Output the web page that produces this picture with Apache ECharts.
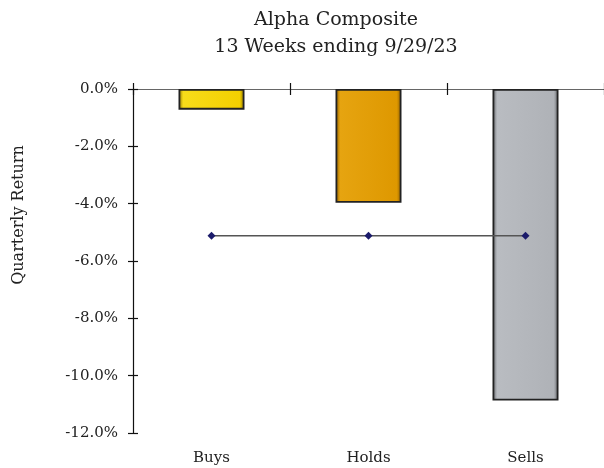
<!DOCTYPE html>
<html><head><meta charset="utf-8">
<script src="https://cdn.jsdelivr.net/npm/echarts@6/dist/echarts.min.js"></script>
<style>html,body{margin:0;padding:0;background:#fff}#c{width:604px;height:468px}</style>
</head><body><div id="c"></div>
<script>
const categories = ['Buys', 'Holds', 'Sells'];
const returns = [-0.72, -3.97, -10.87];
const average = [-5.12, -5.12, -5.12];
const barColors = [
  ['#8a7000', '#f7dc1a', '#f3d000', '#8a7000'],
  ['#8a5c00', '#e6a410', '#de9800', '#8a5c00'],
  ['#5e6064', '#b9bcc1', '#afb2b7', '#5e6064']
];
const font = 'DejaVu Serif';
function grad(c){
  return {type:'linear',x:0,y:0,x2:1,y2:0,colorStops:[
    {offset:0,color:c[0]},{offset:0.07,color:c[1]},{offset:0.93,color:c[2]},{offset:1,color:c[3]}]};
}
const chart = echarts.init(document.getElementById('c'));
const baseX = {type:'category', data:categories, boundaryGap:true};
const baseY = {type:'value', min:-12, max:0, interval:2, splitLine:{show:false}};
const gridBox = {left:133, top:89, width:475, height:344};
chart.setOption({
  animation:false,
  title:{text:'Alpha Composite\n13 Weeks ending 9/29/23', left:331, top:2, textAlign:'center',
    textStyle:{fontFamily:font, fontSize:19, fontWeight:'normal', color:'#222', lineHeight:27}},
  grid:[Object.assign({}, gridBox), Object.assign({}, gridBox)],
  xAxis:[
    Object.assign({}, baseX, {gridIndex:0, position:'top', axisLine:{lineStyle:{color:'#666', width:1.2}},
      axisTick:{show:true, length:6, lineStyle:{color:'#111', width:1.2}}, axisLabel:{show:false}}),
    Object.assign({}, baseX, {gridIndex:0, position:'bottom', axisLine:{show:false}, axisTick:{show:false},
      axisLabel:{margin:18, fontFamily:font, fontSize:15, color:'#222'}}),
    Object.assign({}, baseX, {gridIndex:1, position:'top', axisLine:{show:true, lineStyle:{color:'rgba(0,0,0,0)'}},
      axisTick:{show:true, inside:true, length:6, lineStyle:{color:'#111', width:1.2}}, axisLabel:{show:false}})
  ],
  yAxis:[
    Object.assign({}, baseY, {gridIndex:0, name:'Quarterly Return', nameLocation:'middle', nameGap:106,
      nameTextStyle:{fontFamily:font, fontSize:16, color:'#222', padding:[0,0,0,92]},
      axisLine:{show:true, lineStyle:{color:'#111', width:1.2}},
      axisTick:{show:true, length:5, lineStyle:{color:'#111', width:1.2}},
      axisLabel:{margin:15, fontFamily:font, fontSize:15, color:'#222', formatter:v=>v.toFixed(1)+'%'}}),
    Object.assign({}, baseY, {gridIndex:1, position:'left', axisLine:{show:true, lineStyle:{color:'rgba(0,0,0,0)'}},
      axisTick:{show:true, inside:true, length:5, lineStyle:{color:'#111', width:1.2}},
      axisLabel:{show:false}})
  ],
  series:[
    {type:'bar', xAxisIndex:0, yAxisIndex:0, barWidth:66,
      data:returns.map((v,i)=>({value:v, itemStyle:{color:grad(barColors[i]), borderColor:'#222', borderWidth:1.8}}))},
    {type:'line', xAxisIndex:0, yAxisIndex:0, data:average, symbol:'diamond', symbolSize:8,
      itemStyle:{color:'#1b1b6b'}, lineStyle:{color:'#555', width:1.3}, z:5},
    {type:'line', xAxisIndex:2, yAxisIndex:1, data:[], silent:true}
  ]
});
</script></body></html>
